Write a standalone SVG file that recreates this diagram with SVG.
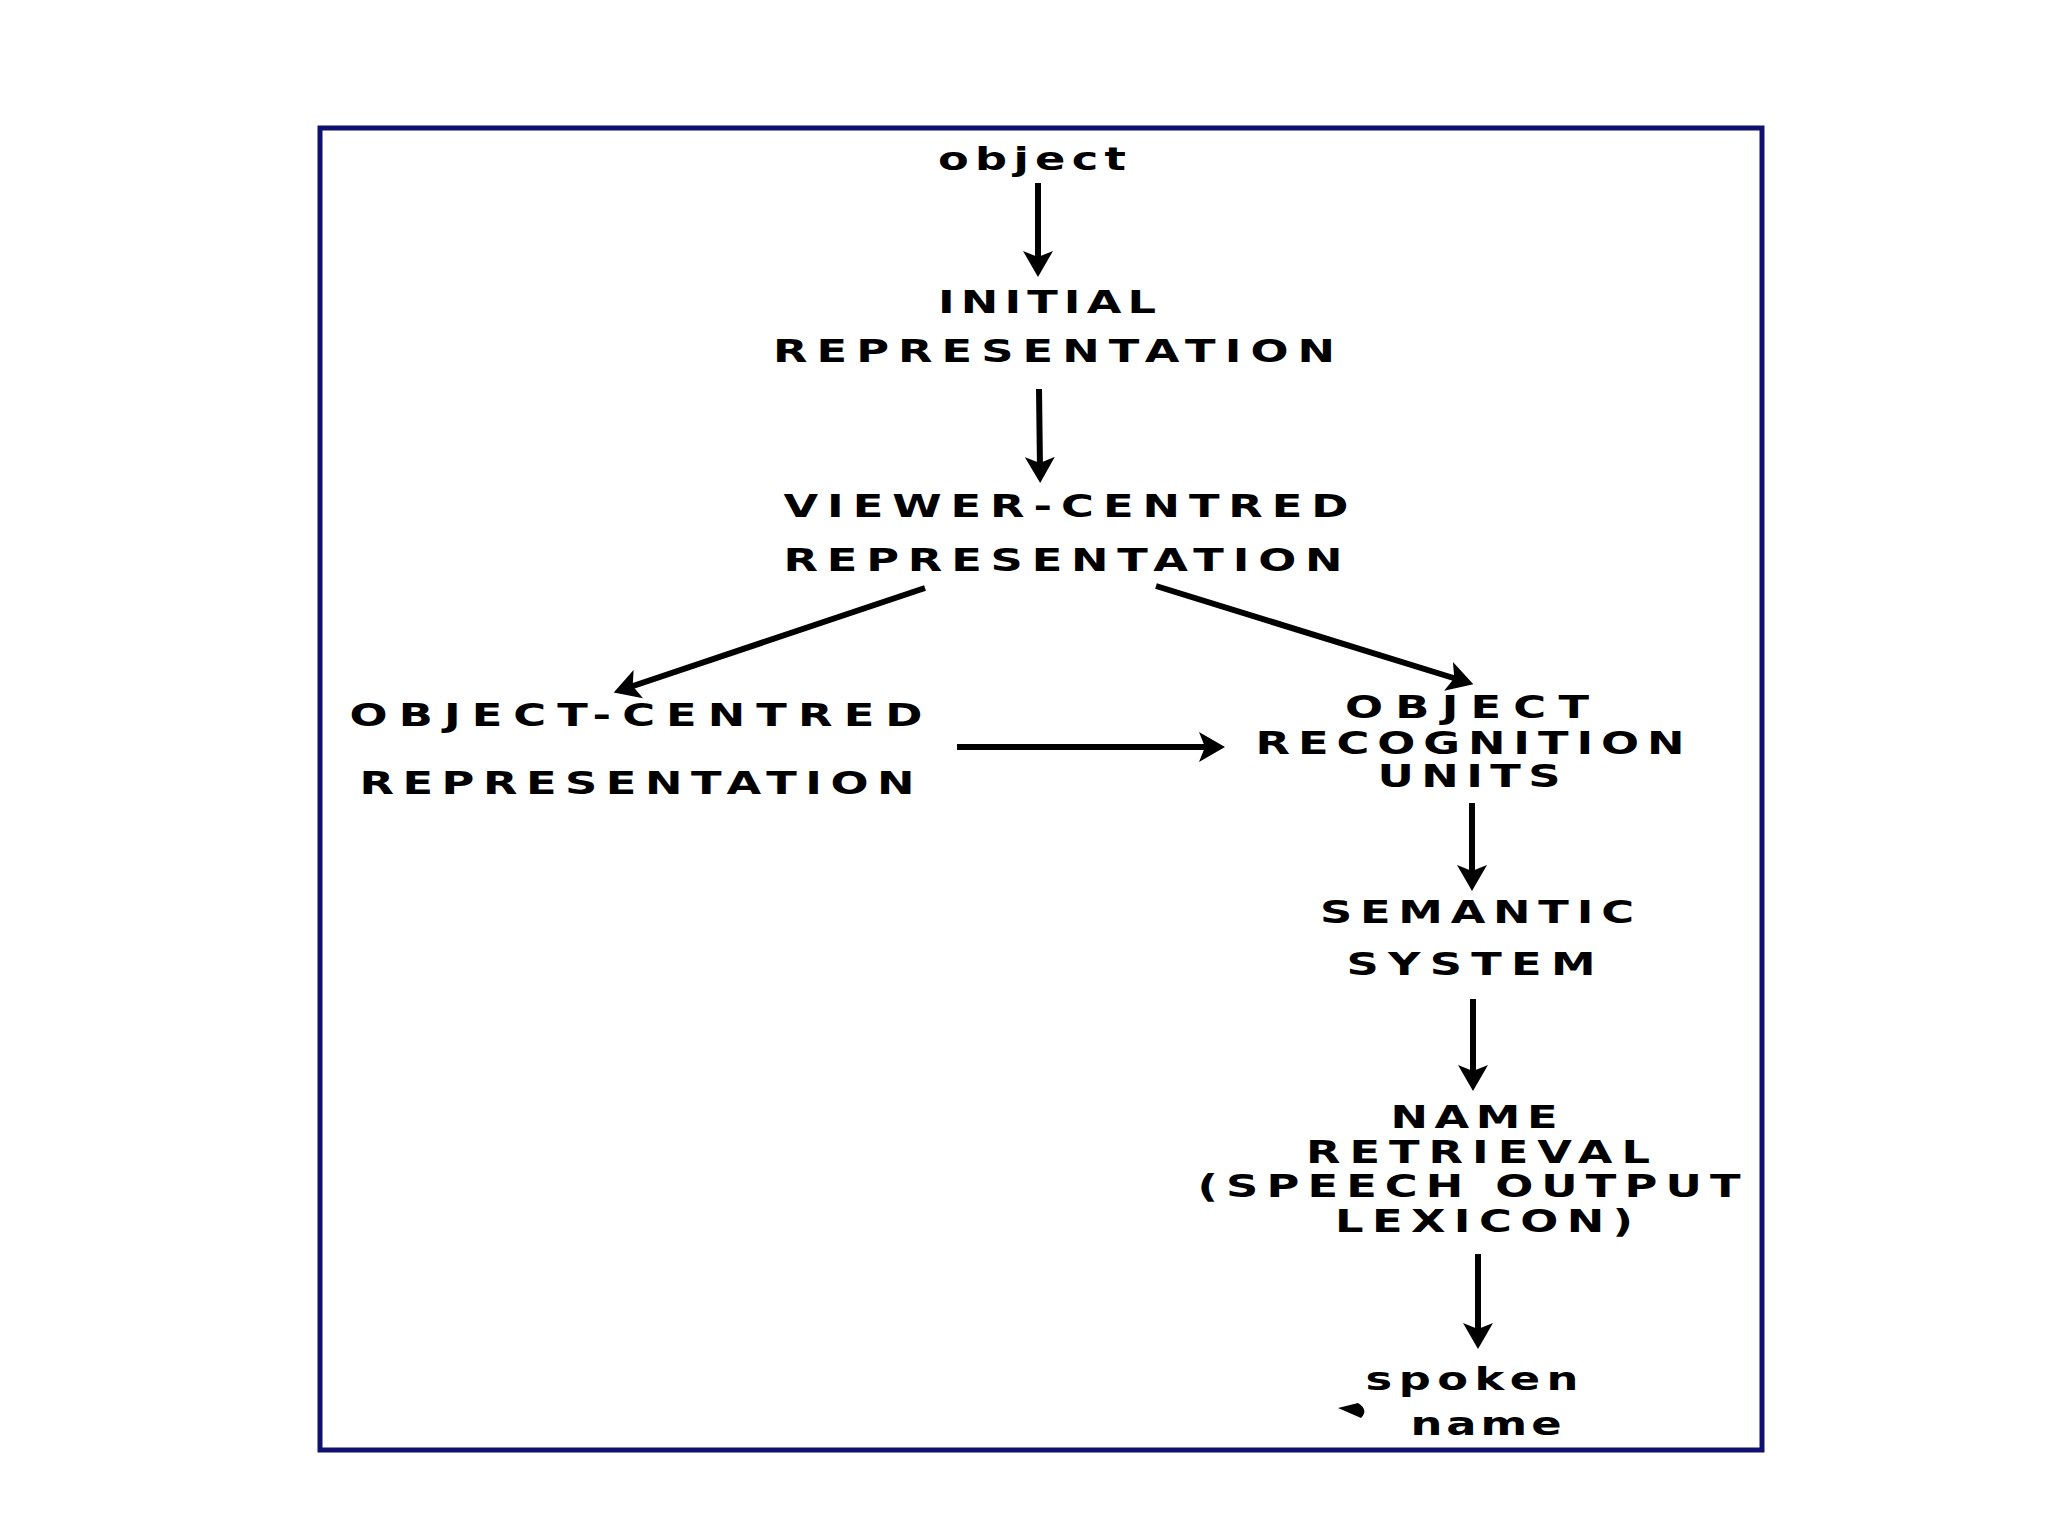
<svg xmlns="http://www.w3.org/2000/svg" width="2048" height="1536" viewBox="0 0 2048 1536">
<style>
  text { font-family: "DejaVu Sans", "Liberation Sans", Arial, sans-serif; font-weight: bold; font-size: 32px; fill: #000; text-anchor: middle; }
  .conn { stroke: #000; stroke-width: 6; fill: none; marker-end: url(#ah); }
</style>
<defs>
  <marker id="ah" markerUnits="userSpaceOnUse" markerWidth="28" markerHeight="30" refX="12" refY="15" orient="auto">
    <path d="M0,0 L26,15 L0,30 L6,15 Z" fill="#000"/>
  </marker>
</defs>
<rect x="0" y="0" width="2048" height="1536" fill="#fff"/>
<rect id="frame" x="320" y="128" width="1442" height="1322" fill="#fff" stroke="#10106e" stroke-width="5"/>

<g id="connectors">
  <line class="conn" x1="1038" y1="183" x2="1038" y2="263"/>
  <line class="conn" x1="1039" y1="389" x2="1040" y2="469"/>
  <line class="conn" x1="925" y1="588" x2="627" y2="688"/>
  <line class="conn" x1="1156" y1="586" x2="1460" y2="680"/>
  <line class="conn" x1="957" y1="747" x2="1211" y2="747"/>
  <line class="conn" x1="1472" y1="803" x2="1472" y2="877"/>
  <line class="conn" x1="1473" y1="999" x2="1473" y2="1077"/>
  <line class="conn" x1="1478" y1="1254" x2="1478" y2="1335"/>
</g>

<g id="node-object">
  <text transform="matrix(1.4,0,0,1,-412.8,0)" x="1032" y="170" textLength="134.3" lengthAdjust="spacing">object</text>
</g>
<g id="node-initial">
  <text transform="matrix(1.4,0,0,1,-418.8,0)" x="1047" y="313" textLength="155.7" lengthAdjust="spacing">INITIAL</text>
  <text transform="matrix(1.4,0,0,1,-421.6,0)" x="1054" y="362" textLength="401.4" lengthAdjust="spacing">REPRESENTATION</text>
</g>
<g id="node-viewer">
  <text transform="matrix(1.4,0,0,1,-426.4,0)" x="1066" y="517" textLength="403.6" lengthAdjust="spacing">VIEWER-CENTRED</text>
  <text transform="matrix(1.4,0,0,1,-425.2,0)" x="1063" y="571" textLength="399.3" lengthAdjust="spacing">REPRESENTATION</text>
</g>
<g id="node-objcentred">
  <text transform="matrix(1.4,0,0,1,-254.4,0)" x="636" y="726" textLength="409.3" lengthAdjust="spacing">OBJECT-CENTRED</text>
  <text transform="matrix(1.4,0,0,1,-254.8,0)" x="637" y="794" textLength="396.4" lengthAdjust="spacing">REPRESENTATION</text>
</g>
<g id="node-oru">
  <text transform="matrix(1.4,0,0,1,-586.8,0)" x="1467" y="718" textLength="174.3" lengthAdjust="spacing">OBJECT</text>
  <text transform="matrix(1.4,0,0,1,-588,0)" x="1470" y="754" textLength="306.4" lengthAdjust="spacing">RECOGNITION</text>
  <text transform="matrix(1.4,0,0,1,-587.6,0)" x="1469" y="787" textLength="130.7" lengthAdjust="spacing">UNITS</text>
</g>
<g id="node-semantic">
  <text transform="matrix(1.4,0,0,1,-590.8,0)" x="1477" y="923" textLength="224.3" lengthAdjust="spacing">SEMANTIC</text>
  <text transform="matrix(1.4,0,0,1,-588.4,0)" x="1471" y="975" textLength="177.9" lengthAdjust="spacing">SYSTEM</text>
</g>
<g id="node-name">
  <text transform="matrix(1.4,0,0,1,-589.6,0)" x="1474" y="1128" textLength="119.3" lengthAdjust="spacing">NAME</text>
  <text transform="matrix(1.4,0,0,1,-591.2,0)" x="1478" y="1163" textLength="245.7" lengthAdjust="spacing">RETRIEVAL</text>
  <text transform="matrix(1.4,0,0,1,-587.6,0)" x="1469" y="1197" textLength="387.9" lengthAdjust="spacing">(SPEECH OUTPUT</text>
  <text transform="matrix(1.4,0,0,1,-593.6,0)" x="1484" y="1232" textLength="212.9" lengthAdjust="spacing">LEXICON)</text>
</g>
<g id="node-spoken">
  <text transform="matrix(1.4,0,0,1,-588.8,0)" x="1472" y="1390" textLength="152.1" lengthAdjust="spacing">spoken</text>
  <path d="M1338,1408 L1358,1403 Q1369,1410 1361,1418 Q1352,1414 1338,1408 Z" fill="#000"/>
  <text transform="matrix(1.4,0,0,1,-594.4,0)" x="1486" y="1435" textLength="107.9" lengthAdjust="spacing">name</text>
</g>
</svg>
